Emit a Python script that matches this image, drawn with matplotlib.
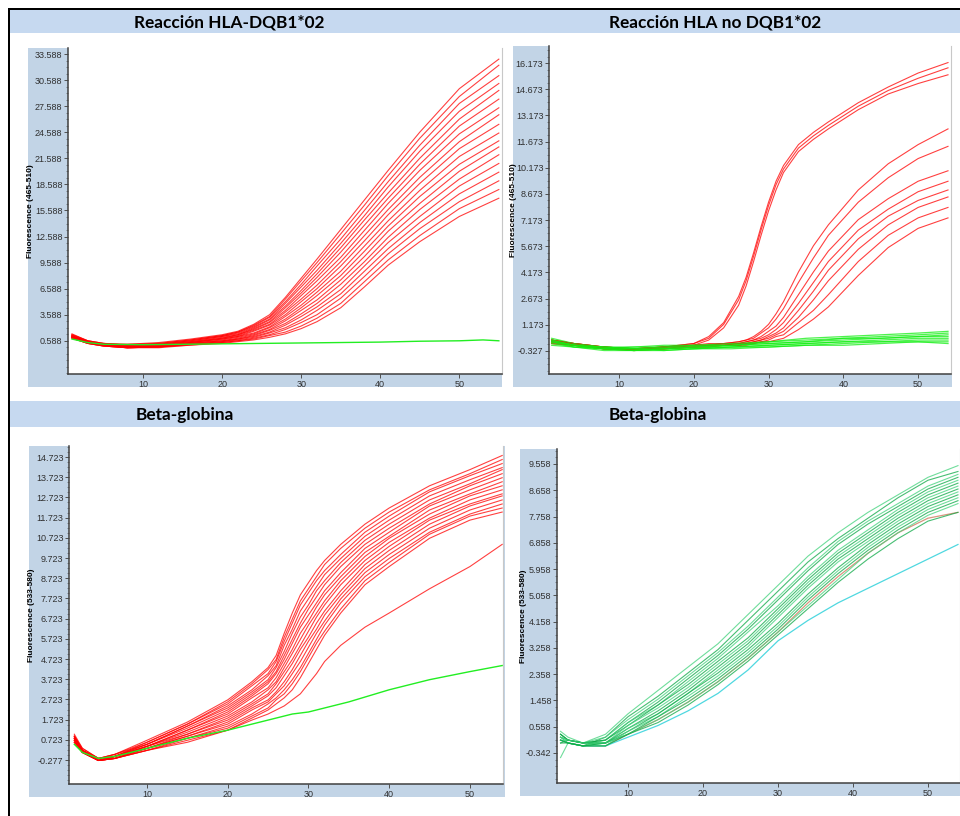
import matplotlib.pyplot as plt
from matplotlib.patches import Rectangle
from matplotlib.ticker import AutoMinorLocator

W, H = 960, 816
HEADER = "#c6d9f0"
FRAME = "#c2d4e6"

# ---- Reacción HLA-DQB1*02 (465-510)
dqb_cycles = [1, 3, 5, 8, 12, 16, 20, 22, 24, 26, 28, 30, 32, 35, 38, 41, 45, 50, 55]
dqb_red = [
    [1.4, 0.6, 0.3, 0.2, 0.4, 0.8, 1.3, 1.7, 2.5, 3.6, 5.6, 7.8, 10.0, 13.4, 16.8, 20.2, 24.6, 29.6, 33.0],
    [1.2, 0.5, 0.2, 0.2, 0.3, 0.7, 1.2, 1.6, 2.4, 3.4, 5.4, 7.5, 9.6, 12.9, 16.2, 19.6, 23.9, 28.7, 32.3],
    [1.3, 0.6, 0.3, 0.1, 0.3, 0.7, 1.2, 1.6, 2.3, 3.3, 5.1, 7.1, 9.2, 12.3, 15.6, 18.9, 23.1, 27.9, 31.1],
    [1.1, 0.5, 0.2, 0.1, 0.2, 0.6, 1.1, 1.5, 2.2, 3.1, 4.9, 6.8, 8.7, 11.8, 15.0, 18.3, 22.4, 27.0, 30.2],
    [1.2, 0.5, 0.2, 0.0, 0.2, 0.6, 1.1, 1.4, 2.1, 3.0, 4.6, 6.4, 8.3, 11.3, 14.5, 17.6, 21.6, 26.1, 29.4],
    [1.0, 0.4, 0.1, 0.0, 0.1, 0.5, 1.0, 1.3, 2.0, 2.8, 4.4, 6.1, 7.9, 10.8, 13.9, 17.0, 20.9, 25.3, 28.4],
    [1.3, 0.6, 0.3, 0.1, 0.2, 0.5, 0.9, 1.3, 1.9, 2.7, 4.1, 5.8, 7.5, 10.2, 13.3, 16.4, 20.2, 24.4, 27.4],
    [1.1, 0.4, 0.1, -0.1, 0.0, 0.4, 0.9, 1.2, 1.8, 2.5, 3.9, 5.4, 7.0, 9.7, 12.7, 15.7, 19.4, 23.5, 26.6],
    [1.2, 0.5, 0.2, 0.0, 0.1, 0.4, 0.8, 1.1, 1.7, 2.4, 3.6, 5.1, 6.6, 9.2, 12.1, 15.1, 18.7, 22.7, 25.5],
    [1.0, 0.4, 0.1, -0.1, 0.0, 0.4, 0.8, 1.1, 1.5, 2.2, 3.4, 4.7, 6.2, 8.6, 11.5, 14.4, 17.9, 21.8, 24.5],
    [1.1, 0.5, 0.2, 0.0, 0.1, 0.3, 0.7, 1.0, 1.4, 2.1, 3.1, 4.4, 5.8, 8.1, 10.9, 13.8, 17.2, 20.9, 23.6],
    [0.9, 0.3, 0.0, -0.2, -0.1, 0.3, 0.6, 0.9, 1.3, 1.9, 2.9, 4.1, 5.3, 7.6, 10.3, 13.2, 16.4, 20.1, 22.9],
    [1.0, 0.4, 0.1, -0.1, 0.0, 0.3, 0.6, 0.8, 1.2, 1.8, 2.6, 3.7, 4.9, 7.1, 9.7, 12.5, 15.7, 19.2, 22.0],
    [1.1, 0.4, 0.1, -0.2, -0.1, 0.2, 0.5, 0.8, 1.1, 1.6, 2.4, 3.4, 4.5, 6.5, 9.2, 11.9, 14.9, 18.4, 21.0],
    [0.9, 0.3, 0.0, -0.2, -0.1, 0.2, 0.5, 0.7, 1.0, 1.5, 2.1, 3.0, 4.1, 6.0, 8.6, 11.2, 14.2, 17.5, 20.0],
    [1.0, 0.4, 0.1, -0.1, -0.1, 0.2, 0.4, 0.6, 0.9, 1.3, 1.9, 2.7, 3.6, 5.5, 8.0, 10.6, 13.5, 16.6, 19.0],
    [0.9, 0.3, 0.0, -0.2, -0.2, 0.1, 0.4, 0.6, 0.8, 1.2, 1.6, 2.3, 3.2, 4.9, 7.4, 9.9, 12.7, 15.8, 18.0],
    [1.0, 0.3, 0.0, -0.2, -0.1, 0.1, 0.3, 0.5, 0.7, 1.0, 1.4, 2.0, 2.8, 4.4, 6.8, 9.3, 12.0, 14.9, 17.0],
]
dqb_green_cycles = [1, 3, 5, 10, 15, 20, 25, 30, 35, 40, 45, 50, 53, 55]
dqb_green = [0.8, 0.4, 0.2, 0.15, 0.2, 0.25, 0.3, 0.35, 0.4, 0.45, 0.55, 0.6, 0.7, 0.6]
dqb_yticks = [0.588, 3.588, 6.588, 9.588, 12.588, 15.588, 18.588, 21.588,
              24.588, 27.588, 30.588, 33.588]

# ---- Reacción HLA no DQB1*02 (465-510)
nodqb_cycles = [1, 4, 8, 12, 16, 20, 22, 24, 26, 27, 28, 29, 30, 31, 32, 34, 36, 38, 42, 46, 50, 54]
nodqb_red = [
    [0.3, 0.1, -0.1, -0.2, -0.1, 0.1, 0.5, 1.3, 2.8, 3.9, 5.3, 6.8, 8.2, 9.4, 10.3, 11.5, 12.2, 12.8, 13.9, 14.8, 15.6, 16.2],
    [0.2, 0.0, -0.2, -0.2, -0.1, 0.1, 0.4, 1.2, 2.6, 3.7, 5.1, 6.6, 8.0, 9.2, 10.1, 11.3, 12.0, 12.6, 13.7, 14.6, 15.3, 15.9],
    [0.3, 0.1, -0.1, -0.3, -0.1, 0.0, 0.3, 1.0, 2.3, 3.4, 4.8, 6.3, 7.7, 8.9, 9.9, 11.1, 11.8, 12.4, 13.5, 14.4, 15.0, 15.5],
    [0.2, 0.0, -0.2, -0.2, -0.1, 0.0, 0.1, 0.1, 0.2, 0.3, 0.5, 0.8, 1.2, 1.8, 2.5, 4.2, 5.7, 6.9, 8.9, 10.4, 11.5, 12.4],
    [0.3, 0.1, -0.1, -0.2, -0.2, 0.0, 0.0, 0.1, 0.2, 0.3, 0.4, 0.7, 1.0, 1.5, 2.1, 3.6, 5.0, 6.3, 8.2, 9.6, 10.7, 11.4],
    [0.1, 0.0, -0.2, -0.3, -0.2, -0.1, 0.0, 0.1, 0.1, 0.2, 0.3, 0.5, 0.8, 1.1, 1.6, 2.9, 4.2, 5.4, 7.2, 8.4, 9.4, 10.0],
    [0.2, 0.0, -0.1, -0.2, -0.1, 0.0, 0.0, 0.0, 0.1, 0.2, 0.3, 0.4, 0.6, 0.9, 1.3, 2.4, 3.6, 4.8, 6.6, 7.8, 8.8, 9.4],
    [0.3, 0.1, -0.2, -0.2, -0.2, -0.1, 0.0, 0.0, 0.1, 0.1, 0.2, 0.3, 0.5, 0.7, 1.0, 2.0, 3.1, 4.3, 6.1, 7.4, 8.3, 8.9],
    [0.2, 0.0, -0.1, -0.3, -0.2, -0.1, -0.1, 0.0, 0.0, 0.1, 0.2, 0.3, 0.4, 0.6, 0.8, 1.6, 2.6, 3.7, 5.5, 6.9, 7.9, 8.5],
    [0.1, 0.0, -0.2, -0.2, -0.1, 0.0, 0.0, 0.0, 0.0, 0.1, 0.1, 0.2, 0.3, 0.5, 0.6, 1.3, 2.0, 2.9, 4.8, 6.3, 7.3, 7.9],
    [0.2, 0.1, -0.1, -0.2, -0.2, -0.1, -0.1, 0.0, 0.0, 0.0, 0.1, 0.2, 0.2, 0.3, 0.4, 0.9, 1.5, 2.2, 4.0, 5.6, 6.7, 7.3],
]
nodqb_green_cycles = [1, 4, 8, 12, 16, 20, 25, 30, 35, 40, 45, 50, 54]
nodqb_green = [
    [0.3, 0.0, -0.1, -0.1, 0.0, 0.0, 0.1, 0.2, 0.4, 0.5, 0.6, 0.7, 0.8],
    [0.2, 0.0, -0.2, -0.1, -0.1, 0.0, 0.0, 0.2, 0.3, 0.4, 0.5, 0.6, 0.7],
    [0.4, 0.1, -0.1, -0.2, -0.1, -0.1, 0.0, 0.1, 0.2, 0.4, 0.4, 0.5, 0.6],
    [0.1, -0.1, -0.2, -0.2, -0.2, -0.1, 0.0, 0.1, 0.2, 0.3, 0.4, 0.5, 0.5],
    [0.2, 0.0, -0.2, -0.3, -0.2, -0.1, -0.1, 0.0, 0.1, 0.2, 0.3, 0.4, 0.4],
    [0.3, 0.0, -0.1, -0.2, -0.3, -0.2, -0.1, 0.0, 0.1, 0.2, 0.2, 0.3, 0.3],
    [0.0, -0.1, -0.2, -0.3, -0.3, -0.2, -0.1, -0.1, 0.0, 0.1, 0.2, 0.2, 0.2],
    [0.2, -0.1, -0.3, -0.3, -0.2, -0.2, -0.2, -0.1, 0.0, 0.0, 0.1, 0.2, 0.1],
]
nodqb_yticks = [-0.327, 1.173, 2.673, 4.173, 5.673, 7.173, 8.673, 10.173,
                11.673, 13.173, 14.673, 16.173]

# ---- Beta-globina, left (533-580)
bglo_cycles = [1, 2, 4, 6, 10, 15, 20, 23, 25, 26, 27, 28, 29, 30, 31, 32, 34, 37, 40, 45, 50, 54]
bglo_red = [
    [0.9, 0.3, -0.2, 0.0, 0.7, 1.6, 2.7, 3.6, 4.3, 4.9, 6.0, 7.0, 7.9, 8.5, 9.1, 9.6, 10.4, 11.4, 12.2, 13.3, 14.1, 14.8],
    [0.8, 0.2, -0.3, -0.1, 0.6, 1.5, 2.6, 3.5, 4.2, 4.7, 5.8, 6.7, 7.6, 8.2, 8.8, 9.4, 10.2, 11.2, 12.0, 13.1, 13.9, 14.6],
    [1.0, 0.3, -0.2, 0.0, 0.6, 1.5, 2.5, 3.4, 4.0, 4.6, 5.6, 6.5, 7.4, 8.0, 8.6, 9.1, 9.9, 11.0, 11.8, 13.0, 13.8, 14.4],
    [0.7, 0.2, -0.3, -0.1, 0.5, 1.4, 2.4, 3.2, 3.9, 4.4, 5.4, 6.2, 7.1, 7.7, 8.3, 8.9, 9.7, 10.8, 11.6, 12.8, 13.6, 14.2],
    [0.8, 0.1, -0.3, -0.1, 0.5, 1.4, 2.3, 3.1, 3.7, 4.3, 5.1, 6.0, 6.8, 7.4, 8.1, 8.6, 9.5, 10.6, 11.4, 12.6, 13.4, 14.1],
    [0.9, 0.2, -0.2, 0.0, 0.5, 1.3, 2.2, 3.0, 3.6, 4.1, 4.9, 5.7, 6.5, 7.2, 7.8, 8.4, 9.3, 10.4, 11.2, 12.4, 13.3, 13.9],
    [0.6, 0.1, -0.3, -0.1, 0.4, 1.2, 2.1, 2.9, 3.5, 4.0, 4.7, 5.5, 6.3, 6.9, 7.5, 8.1, 9.0, 10.2, 11.0, 12.3, 13.1, 13.7],
    [0.8, 0.2, -0.3, -0.1, 0.4, 1.2, 2.0, 2.8, 3.3, 3.8, 4.5, 5.2, 6.0, 6.6, 7.3, 7.9, 8.8, 10.0, 10.8, 12.1, 12.9, 13.5],
    [0.7, 0.1, -0.3, -0.2, 0.4, 1.1, 1.9, 2.6, 3.2, 3.6, 4.3, 5.0, 5.7, 6.4, 7.0, 7.6, 8.6, 9.8, 10.7, 11.9, 12.8, 13.3],
    [0.9, 0.2, -0.2, -0.1, 0.4, 1.0, 1.8, 2.5, 3.0, 3.5, 4.1, 4.7, 5.4, 6.1, 6.8, 7.4, 8.4, 9.6, 10.5, 11.7, 12.6, 13.1],
    [0.6, 0.1, -0.3, -0.2, 0.3, 1.0, 1.7, 2.4, 2.9, 3.3, 3.9, 4.5, 5.2, 5.8, 6.5, 7.1, 8.1, 9.4, 10.3, 11.6, 12.4, 12.9],
    [0.8, 0.2, -0.3, -0.1, 0.3, 0.9, 1.6, 2.3, 2.7, 3.1, 3.6, 4.2, 4.9, 5.6, 6.2, 6.9, 7.9, 9.2, 10.1, 11.4, 12.3, 12.8],
    [0.7, 0.1, -0.3, -0.2, 0.3, 0.9, 1.5, 2.2, 2.6, 3.0, 3.4, 4.0, 4.6, 5.3, 6.0, 6.6, 7.7, 9.0, 9.9, 11.2, 12.1, 12.6],
    [0.9, 0.2, -0.2, -0.1, 0.3, 0.8, 1.4, 2.0, 2.5, 2.8, 3.2, 3.7, 4.3, 5.0, 5.7, 6.4, 7.5, 8.8, 9.7, 11.0, 11.9, 12.4],
    [0.6, 0.1, -0.3, -0.2, 0.2, 0.8, 1.3, 1.9, 2.3, 2.7, 3.0, 3.5, 4.1, 4.8, 5.5, 6.1, 7.2, 8.6, 9.5, 10.9, 11.8, 12.2],
    [0.8, 0.1, -0.3, -0.2, 0.2, 0.7, 1.2, 1.8, 2.2, 2.5, 2.8, 3.2, 3.8, 4.5, 5.2, 5.9, 7.0, 8.4, 9.3, 10.7, 11.6, 12.0],
    [0.7, 0.1, -0.3, -0.2, 0.2, 0.6, 1.2, 1.7, 2.0, 2.2, 2.4, 2.7, 3.0, 3.5, 4.0, 4.6, 5.4, 6.3, 7.0, 8.2, 9.3, 10.4],
]
bglo_green_cycles = [1, 2, 4, 6, 10, 15, 20, 24, 26, 28, 30, 32, 35, 40, 45, 50, 54]
bglo_green = [0.5, 0.1, -0.2, -0.1, 0.3, 0.8, 1.2, 1.6, 1.8, 2.0, 2.1, 2.3, 2.6, 3.2, 3.7, 4.1, 4.4]
bglo_yticks = [-0.277, 0.723, 1.723, 2.723, 3.723, 4.723, 5.723, 6.723, 7.723,
               8.723, 9.723, 10.723, 11.723, 12.723, 13.723, 14.723]

# ---- Beta-globina, right (533-580)
bglo2_cycles = [1, 2, 4, 7, 10, 14, 18, 22, 26, 30, 34, 38, 42, 46, 50, 54]
bglo2_green = [
    [0.3, 0.1, 0.0, 0.3, 1.0, 1.8, 2.6, 3.4, 4.4, 5.4, 6.4, 7.2, 7.9, 8.5, 9.1, 9.5],
    [0.1, 0.0, -0.1, 0.2, 0.9, 1.6, 2.4, 3.2, 4.2, 5.2, 6.2, 7.0, 7.7, 8.4, 9.0, 9.3],
    [0.4, 0.2, 0.0, 0.2, 0.8, 1.5, 2.3, 3.1, 4.0, 5.0, 6.0, 6.9, 7.6, 8.2, 8.8, 9.2],
    [0.0, 0.1, 0.0, 0.1, 0.7, 1.4, 2.2, 3.0, 3.9, 4.9, 5.9, 6.8, 7.5, 8.1, 8.7, 9.1],
    [0.2, 0.0, -0.1, 0.1, 0.7, 1.3, 2.1, 2.9, 3.8, 4.7, 5.7, 6.6, 7.3, 8.0, 8.6, 9.0],
    [0.3, 0.1, 0.0, 0.1, 0.6, 1.3, 2.0, 2.8, 3.6, 4.6, 5.6, 6.5, 7.2, 7.9, 8.5, 8.9],
    [-0.5, 0.0, -0.1, 0.0, 0.6, 1.2, 1.9, 2.7, 3.5, 4.5, 5.5, 6.4, 7.1, 7.8, 8.4, 8.8],
    [0.2, 0.1, 0.0, 0.0, 0.5, 1.1, 1.8, 2.6, 3.4, 4.4, 5.4, 6.3, 7.0, 7.7, 8.3, 8.7],
    [0.1, 0.0, -0.1, 0.0, 0.5, 1.0, 1.7, 2.5, 3.3, 4.3, 5.3, 6.2, 6.9, 7.6, 8.2, 8.6],
    [0.3, 0.1, 0.0, 0.0, 0.4, 1.0, 1.7, 2.4, 3.2, 4.1, 5.1, 6.0, 6.8, 7.5, 8.1, 8.5],
    [0.2, 0.0, -0.1, -0.1, 0.4, 0.9, 1.6, 2.3, 3.1, 4.0, 5.0, 5.9, 6.7, 7.4, 8.0, 8.4],
    [0.0, 0.0, -0.1, 0.0, 0.3, 0.9, 1.5, 2.2, 3.0, 3.9, 4.9, 5.8, 6.6, 7.3, 7.9, 8.3],
    [0.2, 0.1, 0.0, 0.0, 0.3, 0.8, 1.4, 2.1, 2.9, 3.8, 4.7, 5.6, 6.5, 7.2, 7.8, 8.2],
    [0.1, 0.0, -0.1, -0.1, 0.3, 0.7, 1.3, 2.0, 2.8, 3.7, 4.6, 5.5, 6.3, 7.0, 7.6, 7.9],
]
bglo2_cyan = [0.1, 0.0, -0.1, -0.1, 0.2, 0.6, 1.1, 1.7, 2.5, 3.5, 4.2, 4.8, 5.3, 5.8, 6.3, 6.8]
bglo2_brown = [0.1, 0.0, -0.1, -0.1, 0.3, 0.8, 1.4, 2.1, 2.9, 3.8, 4.8, 5.7, 6.5, 7.2, 7.7, 7.9]
bglo2_yticks = [-0.342, 0.558, 1.458, 2.358, 3.258, 4.158, 5.058, 5.958,
                6.858, 7.758, 8.658, 9.558]

x_ticks = [10, 20, 30, 40, 50]


def fig_rect(x0, y0, x1, y1):
    """pixel box (top-left origin) -> figure fraction rect"""
    return [x0 / W, 1 - y1 / H, (x1 - x0) / W, (y1 - y0) / H]


def fig_box(fig, box, color):
    x, y, w, h = fig_rect(*box)
    fig.patches.append(Rectangle((x, y), w, h, transform=fig.transFigure,
                                 facecolor=color, edgecolor="none", zorder=-5))


def panel(fig, frame, axbox, xlim, ylim, yticks, ylabel, label_px):
    fig_box(fig, frame, FRAME)
    ax = fig.add_axes(fig_rect(*axbox))
    ax.set_facecolor("white")
    ax.set_xlim(*xlim)
    ax.set_ylim(*ylim)
    ax.set_xticks(x_ticks)
    ax.set_yticks(yticks, labels=[f"{t:.3f}" for t in yticks])
    ax.yaxis.set_minor_locator(AutoMinorLocator(4))
    ax.tick_params(axis="both", which="major", direction="out", length=3,
                   width=0.7, color="#505050", labelsize=6.5, labelcolor="#303030", pad=1)
    ax.tick_params(axis="y", which="minor", direction="out", length=1.8,
                   width=0.5, color="#606060")
    for lab in ax.get_xticklabels() + ax.get_yticklabels():
        lab.set_family("Liberation Sans")
    ax.spines["top"].set_visible(False)
    ax.spines["right"].set_color("#c8c8c8")
    ax.spines["right"].set_linewidth(0.8)
    for s in ("left", "bottom"):
        ax.spines[s].set_color("#404040")
        ax.spines[s].set_linewidth(1.1)
    ax.set_ylabel(ylabel, fontsize=6, fontweight="bold", family="Liberation Sans")
    ax.yaxis.set_label_coords((label_px - axbox[0]) / (axbox[2] - axbox[0]), 0.5)
    return ax


def main():
    fig = plt.figure(figsize=(W / 100, H / 100), dpi=100)
    fig.patch.set_facecolor("white")

    # outer black border and header bands
    fig_box(fig, (8, 8, 960, 10), "black")
    fig_box(fig, (8, 8, 10, 816), "black")
    fig_box(fig, (10, 10, 960, 33), HEADER)
    fig_box(fig, (10, 401, 960, 427), HEADER)

    title_kw = dict(fontsize=12.4, fontweight="bold", family="Lato",
                    ha="center", va="center", color="black")
    fig.text(229 / W, 1 - 22 / H, "Reacción HLA-DQB1*02", **title_kw)
    fig.text(715 / W, 1 - 22 / H, "Reacción HLA no DQB1*02", **title_kw)
    fig.text(185 / W, 1 - 415 / H, "Beta-globina", **title_kw)
    fig.text(658 / W, 1 - 415 / H, "Beta-globina", **title_kw)

    red_kw = dict(color="#ff0000", lw=0.8, alpha=0.75)

    ax1 = panel(fig, (28, 48, 502, 387), (68, 48, 502, 374), (0.5, 55.4),
                (-3.22, 34.28), dqb_yticks, "Fluorescence (465-510)", 34)
    for c in dqb_red:
        ax1.plot(dqb_cycles, c, **red_kw)
    ax1.plot(dqb_green_cycles, dqb_green, color="#22ee22", lw=1.0)

    ax2 = panel(fig, (513, 46, 952, 387), (549, 46, 951, 374), (0.64, 54.4),
                (-1.645, 17.15), nodqb_yticks, "Fluorescence (465-510)", 517)
    for c in nodqb_red:
        ax2.plot(nodqb_cycles, c, **red_kw)
    for c in nodqb_green:
        ax2.plot(nodqb_green_cycles, c, color="#11ee11", lw=0.9, alpha=0.75)

    ax3 = panel(fig, (29, 446, 505, 797), (69, 446, 503, 784), (0.34, 54.1),
                (-1.465, 15.27), bglo_yticks, "Fluorescence (533-580)", 35)
    for c in bglo_red:
        ax3.plot(bglo_cycles, c, **red_kw)
    ax3.plot(bglo_green_cycles, bglo_green, color="#22ee22", lw=1.0)

    ax4 = panel(fig, (520, 449, 960, 796), (557, 449, 960, 783), (0.53, 54.27),
                (-1.37, 10.07), bglo2_yticks, "Fluorescence (533-580)", 527)
    ax4.plot(bglo2_cycles, bglo2_brown, color="#c0502a", lw=0.9, alpha=0.6)
    ax4.plot(bglo2_cycles, bglo2_cyan, color="#4fd8e0", lw=0.9)
    for i, c in enumerate(bglo2_green):
        ax4.plot(bglo2_cycles, c, color="#0aa844" if i % 2 else "#3fd27a",
                 lw=0.8, alpha=0.75)

    fig.savefig("out.png", dpi=100, facecolor="white")


if __name__ == "__main__":
    main()
